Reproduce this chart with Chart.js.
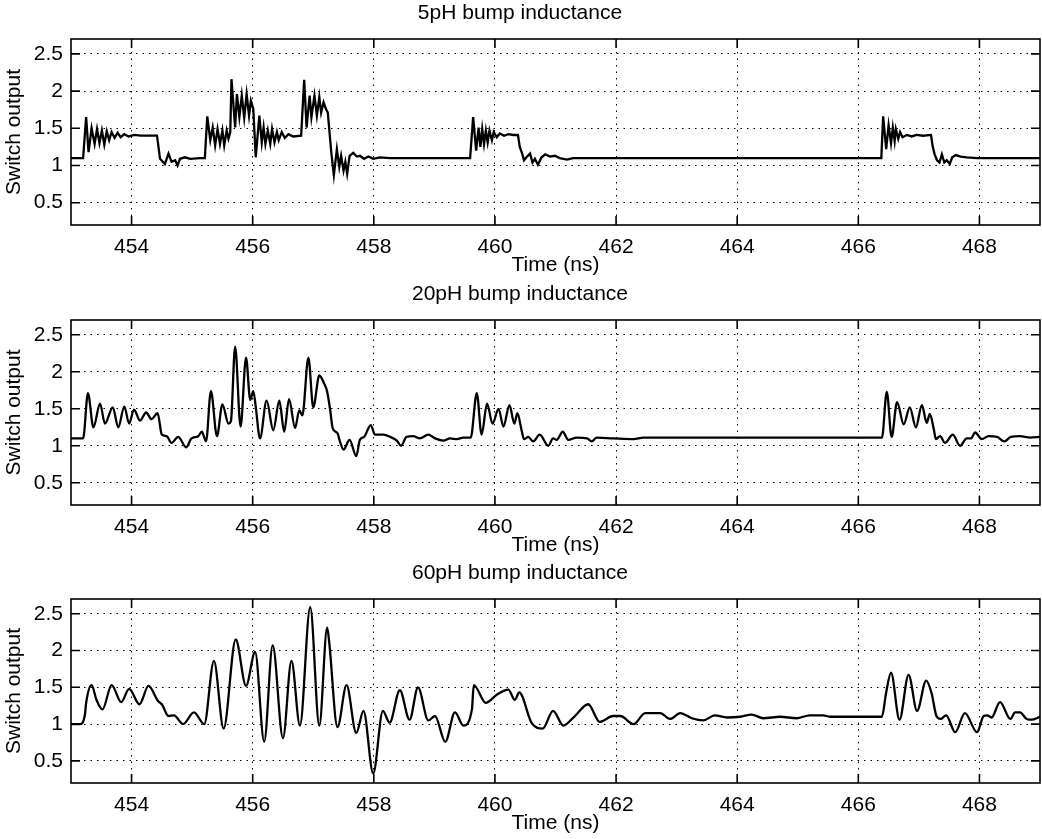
<!DOCTYPE html>
<html>
<head>
<meta charset="utf-8">
<script src="https://cdn.jsdelivr.net/npm/chart.js@4"></script>
<style>
body { margin: 0; background: #fff; }
#wrap { position: relative; width: 1042px; height: 839px; }
canvas { position: absolute; left: 0; }
</style>
</head>
<body>
<div id="wrap">
<canvas id="c5" width="1042" height="277" style="top:1px"></canvas>
<canvas id="c20" width="1042" height="276" style="top:282px"></canvas>
<canvas id="c60" width="1042" height="275" style="top:561px"></canvas>
</div>
<script>
// axis ticks shared by the three panels
const xTicks = [454, 456, 458, 460, 462, 464, 466, 468];
const yTicks = [0.5, 1, 1.5, 2, 2.5];
const titles = ['5pH bump inductance', '20pH bump inductance', '60pH bump inductance'];

// 5pH trace
const t5 = [453.00, 453.20, 453.25, 453.29, 453.34, 453.39, 453.43, 453.47, 453.51, 453.55,
  453.59, 453.63, 453.67, 453.72, 453.77, 453.82, 453.88, 453.95, 454.05, 454.15,
  454.25, 454.42, 454.47, 454.55, 454.61, 454.66, 454.72, 454.76, 454.80, 454.88,
  454.97, 455.13, 455.21, 455.25, 455.30, 455.34, 455.38, 455.42, 455.46, 455.50,
  455.53, 455.57, 455.60, 455.63, 455.65, 455.71, 455.74, 455.78, 455.82, 455.86,
  455.90, 455.94, 455.97, 456.01, 456.05, 456.11, 456.15, 456.18, 456.21, 456.25,
  456.29, 456.32, 456.36, 456.40, 456.43, 456.48, 456.53, 456.59, 456.67, 456.80,
  456.85, 456.89, 456.94, 456.97, 457.02, 457.06, 457.10, 457.13, 457.17, 457.21,
  457.24, 457.28, 457.30, 457.34, 457.39, 457.43, 457.46, 457.50, 457.53, 457.56,
  457.60, 457.66, 457.72, 457.77, 457.84, 457.91, 457.99, 458.10, 458.27, 459.59,
  459.64, 459.69, 459.73, 459.76, 459.79, 459.82, 459.85, 459.88, 459.91, 459.95,
  459.98, 460.03, 460.08, 460.15, 460.22, 460.30, 460.38, 460.41, 460.45, 460.48,
  460.52, 460.58, 460.62, 460.66, 460.71, 460.77, 460.83, 460.91, 460.99, 461.07,
  461.19, 461.29, 466.38, 466.41, 466.46, 466.50, 466.54, 466.57, 466.60, 466.62,
  466.66, 466.69, 466.73, 466.80, 466.88, 466.96, 467.07, 467.20, 467.23, 467.26,
  467.30, 467.34, 467.38, 467.42, 467.46, 467.51, 467.55, 467.61, 467.69, 467.79,
  467.96, 469.00];
const v5 = [1.10, 1.10, 1.65, 1.18, 1.50, 1.29, 1.49, 1.30, 1.47, 1.28,
  1.46, 1.34, 1.45, 1.37, 1.44, 1.38, 1.42, 1.39, 1.41, 1.40,
  1.40, 1.40, 1.09, 1.02, 1.16, 1.05, 1.07, 1.00, 1.09, 1.11,
  1.09, 1.10, 1.10, 1.66, 1.34, 1.51, 1.27, 1.49, 1.29, 1.47,
  1.27, 1.47, 1.36, 1.45, 2.16, 1.51, 1.96, 1.65, 1.94, 1.64,
  1.96, 1.67, 1.87, 1.76, 1.11, 1.67, 1.31, 1.51, 1.29, 1.47,
  1.29, 1.49, 1.31, 1.45, 1.34, 1.45, 1.37, 1.42, 1.39, 1.40,
  2.15, 1.51, 1.94, 1.65, 1.94, 1.67, 1.92, 1.71, 1.85, 1.76,
  1.71, 1.34, 1.16, 0.87, 1.22, 0.98, 1.13, 0.93, 1.05, 0.89,
  1.13, 1.17, 1.12, 1.13, 1.09, 1.12, 1.09, 1.11, 1.10, 1.10,
  1.65, 1.20, 1.51, 1.25, 1.49, 1.29, 1.47, 1.31, 1.47, 1.34,
  1.45, 1.38, 1.43, 1.40, 1.42, 1.41, 1.41, 1.25, 1.16, 1.07,
  1.11, 1.16, 1.04, 1.09, 1.01, 1.11, 1.15, 1.12, 1.13, 1.10,
  1.08, 1.10, 1.10, 1.66, 1.22, 1.54, 1.30, 1.51, 1.33, 1.49,
  1.36, 1.45, 1.38, 1.41, 1.39, 1.41, 1.40, 1.41, 1.25, 1.15,
  1.07, 1.04, 1.15, 1.04, 1.07, 1.02, 1.11, 1.14, 1.12, 1.11,
  1.10, 1.10];

// 20pH trace
const t20 = [453.00, 453.20, 453.28, 453.37, 453.48, 453.56, 453.69, 453.78, 453.88, 453.96,
  454.04, 454.14, 454.24, 454.33, 454.43, 454.50, 454.58, 454.66, 454.77, 454.90,
  454.99, 455.10, 455.16, 455.23, 455.31, 455.41, 455.50, 455.60, 455.64, 455.71,
  455.80, 455.89, 455.96, 456.01, 456.05, 456.12, 456.23, 456.34, 456.44, 456.52,
  456.60, 456.70, 456.77, 456.82, 456.92, 457.00, 457.10, 457.18, 457.23, 457.28,
  457.32, 457.40, 457.44, 457.50, 457.60, 457.71, 457.77, 457.84, 457.95, 458.02,
  458.16, 458.27, 458.38, 458.45, 458.54, 458.65, 458.76, 458.90, 459.01, 459.15,
  459.26, 459.37, 459.48, 459.60, 459.70, 459.78, 459.87, 459.96, 460.06, 460.14,
  460.24, 460.32, 460.37, 460.44, 460.48, 460.55, 460.63, 460.74, 460.88, 460.96,
  461.02, 461.12, 461.21, 461.35, 461.52, 461.60, 461.68, 461.95, 462.29, 462.45,
  462.73, 466.39, 466.47, 466.55, 466.64, 466.75, 466.85, 466.95, 467.05, 467.13,
  467.18, 467.25, 467.28, 467.35, 467.43, 467.56, 467.68, 467.79, 467.86, 467.93,
  468.04, 468.15, 468.29, 468.41, 468.52, 468.67, 468.84, 469.00];
const v20 = [1.10, 1.10, 1.71, 1.25, 1.57, 1.30, 1.52, 1.25, 1.53, 1.30,
  1.49, 1.34, 1.45, 1.36, 1.44, 1.15, 1.13, 1.04, 1.12, 0.98,
  1.10, 1.13, 1.19, 1.06, 1.74, 1.13, 1.56, 1.30, 1.33, 2.34,
  1.26, 2.19, 1.62, 1.74, 1.53, 1.10, 1.61, 1.21, 1.61, 1.19,
  1.63, 1.24, 1.48, 1.41, 2.19, 1.52, 1.95, 1.84, 1.73, 1.48,
  1.24, 1.17, 1.06, 0.95, 1.08, 0.86, 1.08, 1.12, 1.28, 1.15,
  1.15, 1.12, 1.07, 1.00, 1.12, 1.13, 1.10, 1.15, 1.10, 1.07,
  1.10, 1.09, 1.11, 1.11, 1.71, 1.15, 1.57, 1.30, 1.50, 1.26,
  1.55, 1.30, 1.44, 1.21, 1.09, 1.12, 1.06, 1.15, 1.00, 1.10,
  1.08, 1.19, 1.08, 1.11, 1.10, 1.06, 1.11, 1.10, 1.09, 1.11,
  1.11, 1.11, 1.73, 1.12, 1.59, 1.29, 1.52, 1.25, 1.55, 1.31,
  1.43, 1.21, 1.09, 1.13, 1.04, 1.15, 1.00, 1.10, 1.10, 1.18,
  1.09, 1.13, 1.12, 1.06, 1.12, 1.13, 1.11, 1.12];

// 60pH trace
const t60 = [453.00, 453.15, 453.23, 453.25, 453.34, 453.42, 453.52, 453.67, 453.83, 453.96,
  454.13, 454.28, 454.44, 454.50, 454.61, 454.70, 454.85, 455.03, 455.20, 455.36,
  455.52, 455.72, 455.89, 456.04, 456.19, 456.33, 456.50, 456.64, 456.78, 456.95,
  457.10, 457.23, 457.26, 457.40, 457.55, 457.71, 457.83, 457.99, 458.15, 458.26,
  458.43, 458.59, 458.73, 458.90, 459.01, 459.18, 459.34, 459.48, 459.62, 459.65,
  459.85, 460.03, 460.22, 460.33, 460.40, 460.61, 460.79, 460.96, 461.13, 461.32,
  461.54, 461.73, 461.95, 462.07, 462.29, 462.48, 462.73, 462.89, 463.06, 463.25,
  463.44, 463.63, 463.83, 464.05, 464.24, 464.43, 464.71, 464.98, 465.20, 465.42,
  465.53, 465.81, 465.97, 466.39, 466.46, 466.54, 466.68, 466.83, 466.97, 467.12,
  467.21, 467.29, 467.36, 467.45, 467.60, 467.76, 467.96, 468.07, 468.13, 468.20,
  468.34, 468.51, 468.59, 468.67, 468.78, 468.86, 469.00];
const v60 = [1.00, 1.00, 1.13, 1.29, 1.53, 1.33, 1.20, 1.53, 1.30, 1.48,
  1.27, 1.52, 1.31, 1.27, 1.11, 1.12, 1.00, 1.16, 1.00, 1.86,
  0.94, 2.15, 1.52, 1.98, 0.76, 2.07, 0.81, 1.86, 0.98, 2.59,
  0.98, 2.31, 2.14, 0.96, 1.53, 0.88, 1.18, 0.33, 1.18, 1.02,
  1.46, 1.06, 1.50, 1.05, 1.11, 0.76, 1.16, 0.98, 1.20, 1.53,
  1.29, 1.40, 1.47, 1.33, 1.43, 1.01, 0.94, 1.18, 0.98, 1.11,
  1.27, 1.03, 1.11, 1.11, 1.00, 1.15, 1.15, 1.07, 1.15, 1.08,
  1.05, 1.12, 1.09, 1.10, 1.13, 1.08, 1.10, 1.08, 1.12, 1.12,
  1.10, 1.10, 1.10, 1.10, 1.43, 1.70, 1.06, 1.67, 1.18, 1.59,
  1.42, 1.11, 1.07, 1.12, 0.89, 1.15, 0.89, 1.11, 1.12, 1.09,
  1.30, 1.07, 1.16, 1.16, 1.07, 1.06, 1.10];

Chart.defaults.font.family = '"Liberation Sans", Arial, Helvetica, sans-serif';
Chart.defaults.font.size = 21;
Chart.defaults.color = '#000';

// box round the plot area with inward tick marks, like the original
const frame = {
  id: 'frame',
  afterDraw(chart) {
    const ctx = chart.ctx, a = chart.chartArea;
    const x = chart.scales.x, y = chart.scales.y;
    const len = 9;
    ctx.save();
    ctx.strokeStyle = '#000';
    ctx.lineWidth = 1.6;
    ctx.strokeRect(a.left, a.top, a.right - a.left, a.bottom - a.top);
    ctx.beginPath();
    xTicks.forEach(v => {
      const px = x.getPixelForValue(v);
      ctx.moveTo(px, a.bottom); ctx.lineTo(px, a.bottom - len);
      ctx.moveTo(px, a.top); ctx.lineTo(px, a.top + len);
    });
    yTicks.forEach(v => {
      const py = y.getPixelForValue(v);
      ctx.moveTo(a.left, py); ctx.lineTo(a.left + len, py);
      ctx.moveTo(a.right, py); ctx.lineTo(a.right - len, py);
    });
    ctx.stroke();
    ctx.restore();
  }
};

function makeChart(id, title, ts, vs, smooth) {
  return new Chart(id, {
    type: 'line',
    data: {
      datasets: [{
        data: ts.map((t, i) => ({ x: t, y: vs[i] })),
        borderColor: '#000',
        borderWidth: 2.3,
        pointRadius: 0,
        cubicInterpolationMode: smooth ? 'monotone' : 'default',
        tension: 0
      }]
    },
    options: {
      responsive: false,
      animation: false,
      layout: { padding: { left: 0, right: 2, top: 0, bottom: 0 } },
      plugins: {
        legend: { display: false },
        tooltip: { enabled: false },
        title: { display: true, text: title, font: { size: 21, weight: 'normal' }, padding: { top: 0, bottom: 12.8 } }
      },
      scales: {
        x: {
          type: 'linear', min: 453, max: 469,
          afterBuildTicks: s => { s.ticks = xTicks.map(v => ({ value: v })); },
          afterFit: s => { s.height = 53; },
          ticks: { padding: 9.5, callback: v => String(v) },
          grid: { color: '#000', lineWidth: 1, drawTicks: false },
          border: { display: false, dash: [1.5, 5] },
          title: { display: true, text: 'Time (ns)', padding: 0 }
        },
        y: {
          min: 0.2, max: 2.7,
          afterBuildTicks: s => { s.ticks = yTicks.map(v => ({ value: v })); },
          afterFit: s => { s.width = 71; },
          ticks: { padding: 8, callback: v => String(v) },
          grid: { color: '#000', lineWidth: 1, drawTicks: false },
          border: { display: false, dash: [1.5, 5] },
          title: { display: true, text: 'Switch output', padding: { top: 2, bottom: 0 } }
        }
      }
    },
    plugins: [frame]
  });
}

makeChart('c5', titles[0], t5, v5, false);
makeChart('c20', titles[1], t20, v20, true);
makeChart('c60', titles[2], t60, v60, true);
</script>
</body>
</html>
